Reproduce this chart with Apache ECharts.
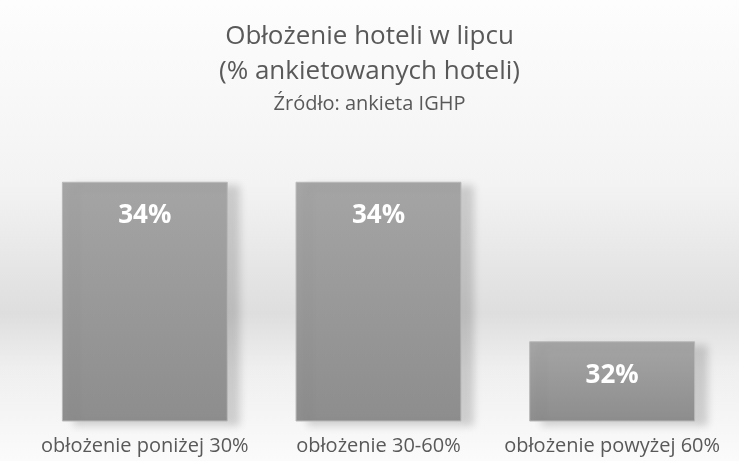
<!DOCTYPE html>
<html>
<head>
<meta charset="utf-8">
<script src="https://cdn.jsdelivr.net/npm/echarts@6/dist/echarts.min.js"></script>
<style>
    html, body { margin: 0; padding: 0; }
    #chart { width: 739px; height: 461px; }
</style>
</head>
<body>
<div id="chart"></div>
<script>
var categories = ['obłożenie poniżej 30%', 'obłożenie 30-60%', 'obłożenie powyżej 60%'];
var values = [34, 34, 32];

var chart = echarts.init(document.getElementById('chart'));
var option = {
    // background like the Excel chart
    backgroundColor: {
        type: 'linear', x: 0, y: 0, x2: 0, y2: 1,
        colorStops: [
            { offset: 0, color: '#fdfdfd' },
            { offset: 0.4, color: '#f3f3f3' },
            { offset: 0.68, color: '#dedede' },
            { offset: 0.8, color: '#efefef' },
            { offset: 1, color: '#fbfbfb' }
        ]
    },
    title: {
        text: 'Obłożenie hoteli w lipcu\n(% ankietowanych hoteli)',
        subtext: 'Źródło: ankieta IGHP',
        left: 'center',
        top: 14,
        itemGap: 2,
        textStyle: {
            fontFamily: 'Open Sans',
            fontWeight: 'normal',
            fontSize: 26,
            lineHeight: 35,
            color: '#595959'
        },
        subtextStyle: {
            fontFamily: 'Open Sans',
            fontSize: 20,
            lineHeight: 26,
            color: '#595959'
        }
    },
    grid: {
        left: 28,
        right: 10,
        top: 102,
        bottom: 40
    },
    xAxis: {
        type: 'category',
        data: categories,
        axisLine: { show: false },
        axisTick: { show: false },
        axisLabel: {
            interval: 0,
            hideOverlap: false,
            margin: 15,
            fontFamily: 'Open Sans',
            fontSize: 20,
            color: '#595959'
        }
    },
    yAxis: {
        type: 'value',
        min: 31,
        max: 35,
        show: false,
        splitLine: { show: false }
    },
    series: [{
        type: 'bar',
        data: values,
        barCategoryGap: '29%',
        itemStyle: {
            color: {
                type: 'linear', x: 0, y: 0, x2: 0, y2: 1,
                colorStops: [
                    { offset: 0, color: '#a5a5a5' },
                    { offset: 1, color: '#8d8d8d' }
                ]
            },
            borderColor: '#b8b8b8',
            borderWidth: 1,
            shadowColor: 'rgba(0,0,0,0.16)',
            shadowBlur: 8,
            shadowOffsetX: 12,
            shadowOffsetY: 4
        },
        label: {
            show: true,
            position: 'insideTop',
            distance: 21,
            formatter: '{c}%',
            fontFamily: 'Open Sans',
            fontWeight: 'bold',
            fontSize: 26,
            color: '#ffffff'
        }
    }]
};
chart.setOption(option);
</script>
</body>
</html>
